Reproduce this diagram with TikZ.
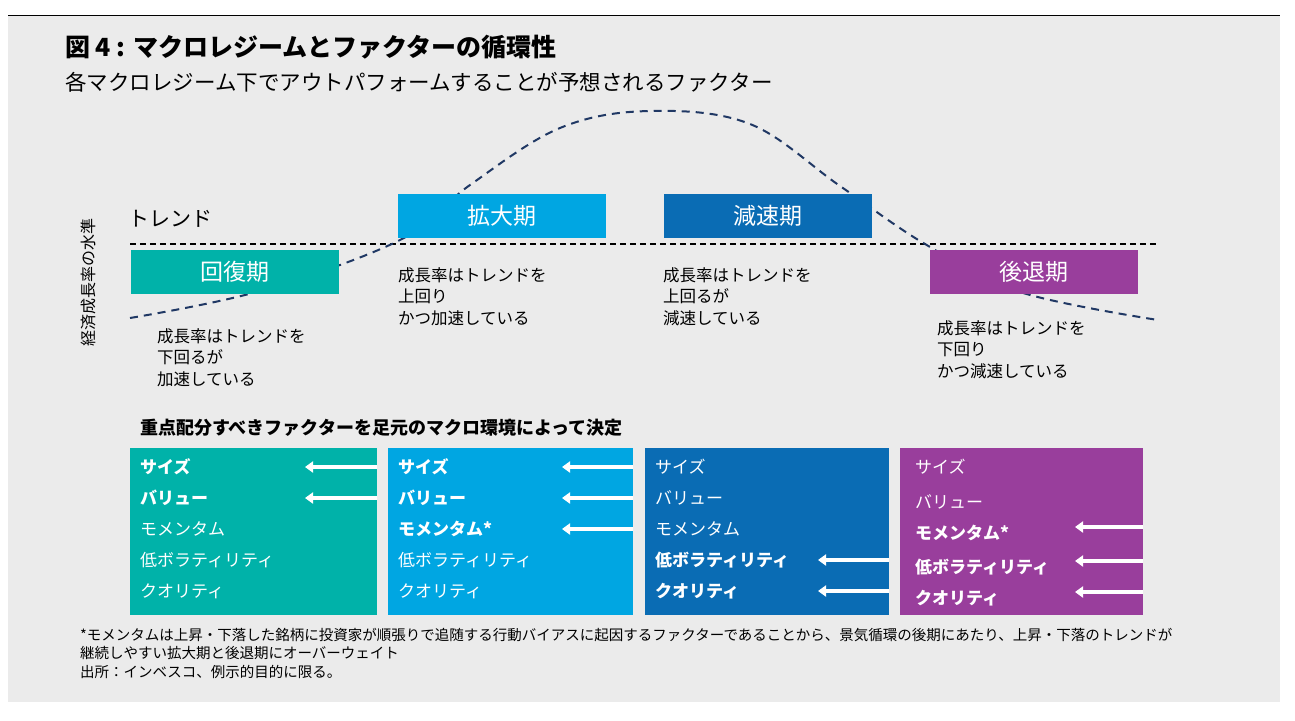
\documentclass[tikz,border=0pt]{standalone}
\usepackage{fontspec}
\setmainfont{Noto Sans CJK JP}
\usetikzlibrary{arrows.meta}
\definecolor{bg}{RGB}{235,235,235}
\definecolor{cteal}{RGB}{0,178,169}
\definecolor{clight}{RGB}{0,166,226}
\definecolor{cdark}{RGB}{10,108,180}
\definecolor{cpurp}{RGB}{153,62,156}
\definecolor{cnavy}{RGB}{32,56,100}
\newcommand{\fs}[1]{\fontsize{#1}{#1}\selectfont}
\tikzset{
 phase/.style={fill=#1,text=white,minimum width=208pt,minimum height=44pt,inner sep=0pt,font=\fs{23}},
 desc/.style={anchor=north west,align=left,font=\fs{16.5},inner sep=0pt,text depth=0pt},
 panel/.style={fill=#1,minimum width=245pt,minimum height=167pt,inner sep=0pt,anchor=north west},
 item/.style={anchor=west,text=white,font=\fs{17},inner sep=0pt},
 bitem/.style={item,font=\fs{17}\bfseries},
 warr/.style={draw=white,line width=4pt,-{Triangle[length=8pt,width=11pt]}},
}
\begin{document}
\begin{tikzpicture}[x=1pt,y=-1pt]
\useasboundingbox (0,0) rectangle (1295,720);
\fill[white] (0,0) rectangle (1295,720);
\fill[bg] (8,15) rectangle (1280,702);
\draw[black,line width=0.8pt] (8,15) -- (1280,15);
\node[anchor=west,font=\fs{25}\bfseries,inner sep=0pt] (title) at (65,47) {図 4 : マクロレジームとファクターの循環性};
\node[anchor=west,font=\fs{21.5},inner sep=0pt] (sub) at (65,82) {各マクロレジーム下でアウトパフォームすることが予想されるファクター};
% trend
\coordinate (tl) at (130,244); \coordinate (tr) at (1158,244);
\draw[black,dashed,line width=1.6pt,dash pattern=on 6pt off 4pt] (tl) -- (tr);
\node[anchor=west,font=\fs{21},inner sep=0pt] (trend) at (128,219) {トレンド};
\node[rotate=90,font=\fs{16},inner sep=0pt] (ylab) at (88,282) {経済成長率の水準};
% curve
\draw[cnavy,dashed,line width=2pt,dash pattern=on 8pt off 6pt] plot[smooth,tension=0.6] coordinates {(130,318) (260,291) (400,240) (470,185) (560,128) (650,111) (750,124) (840,186) (925,244) (1020,292) (1158,320)};
% phases
\node[phase=cteal] (p1) at (235,272) {回復期};
\node[phase=clight] (p2) at (502,216) {拡大期};
\node[phase=cdark] (p3) at (768,216) {減速期};
\node[phase=cpurp] (p4) at (1034,272) {後退期};
\node[desc] (d1) at (157,328) {成長率はトレンドを\\[5pt]下回るが\\[5pt]加速している};
\node[desc] (d2) at (398,267) {成長率はトレンドを\\[5pt]上回り\\[5pt]かつ加速している};
\node[desc] (d3) at (663,267) {成長率はトレンドを\\[5pt]上回るが\\[5pt]減速している};
\node[desc] (d4) at (937,320) {成長率はトレンドを\\[5pt]下回り\\[5pt]かつ減速している};
\node[anchor=west,font=\fs{18}\bfseries,inner sep=0pt] (head) at (140,428) {重点配分すべきファクターを足元のマクロ環境によって決定};
% panels
\node[panel=cteal,minimum width=247pt] (b1) at (130,448) {};
\node[panel=clight] (b2) at (388,448) {};
\node[panel=cdark,minimum width=244pt] (b3) at (645,448) {};
\node[panel=cpurp,minimum width=243pt] (b4) at (900,448) {};
% panel 1
\node[bitem] (a1) at (140,467) {サイズ};
\node[bitem] (a2) at (140,498) {バリュー};
\node[item] (a3) at (140,529) {モメンタム};
\node[item] (a4) at (140,560) {低ボラティリティ};
\node[item] (a5) at (140,591) {クオリティ};
% panel 2
\node[bitem] (b1a) at (398,467) {サイズ};
\node[bitem] (b2a) at (398,498) {バリュー};
\node[bitem] (b3a) at (398,529) {モメンタム*};
\node[item] (b4a) at (398,560) {低ボラティリティ};
\node[item] (b5a) at (398,591) {クオリティ};
% panel 3
\node[item] (c1) at (655,467) {サイズ};
\node[item] (c2) at (655,498) {バリュー};
\node[item] (c3) at (655,529) {モメンタム};
\node[bitem] (c4) at (655,560) {低ボラティリティ};
\node[bitem] (c5) at (655,591) {クオリティ};
% panel 4
\node[item] (e1) at (915,467) {サイズ};
\node[item] (e2) at (915,502) {バリュー};
\node[bitem] (e3) at (915,533) {モメンタム*};
\node[bitem] (e4) at (915,567) {低ボラティリティ};
\node[bitem] (e5) at (915,598) {クオリティ};
% arrows
\foreach \y in {467,498}{\coordinate (s) at (377,\y); \coordinate (t) at (305,\y); \draw[warr] (s) -- (t);}
\foreach \y in {467,498,529}{\coordinate (s) at (633,\y); \coordinate (t) at (562,\y); \draw[warr] (s) -- (t);}
\foreach \y in {560,591}{\coordinate (s) at (889,\y); \coordinate (t) at (818,\y); \draw[warr] (s) -- (t);}
\foreach \y in {527,561,592}{\coordinate (s) at (1143,\y); \coordinate (t) at (1075,\y); \draw[warr] (s) -- (t);}
% footnote
\node[anchor=north west,align=left,font=\fs{14.5},inner sep=0pt] (foot) at (80,628) {*モメンタムは上昇・下落した銘柄に投資家が順張りで追随する行動バイアスに起因するファクターであることから、景気循環の後期にあたり、上昇・下落のトレンドが\\[4pt]継続しやすい拡大期と後退期にオーバーウェイト\\[4pt]出所：インベスコ、例示的目的に限る。};
\end{tikzpicture}
\end{document}
